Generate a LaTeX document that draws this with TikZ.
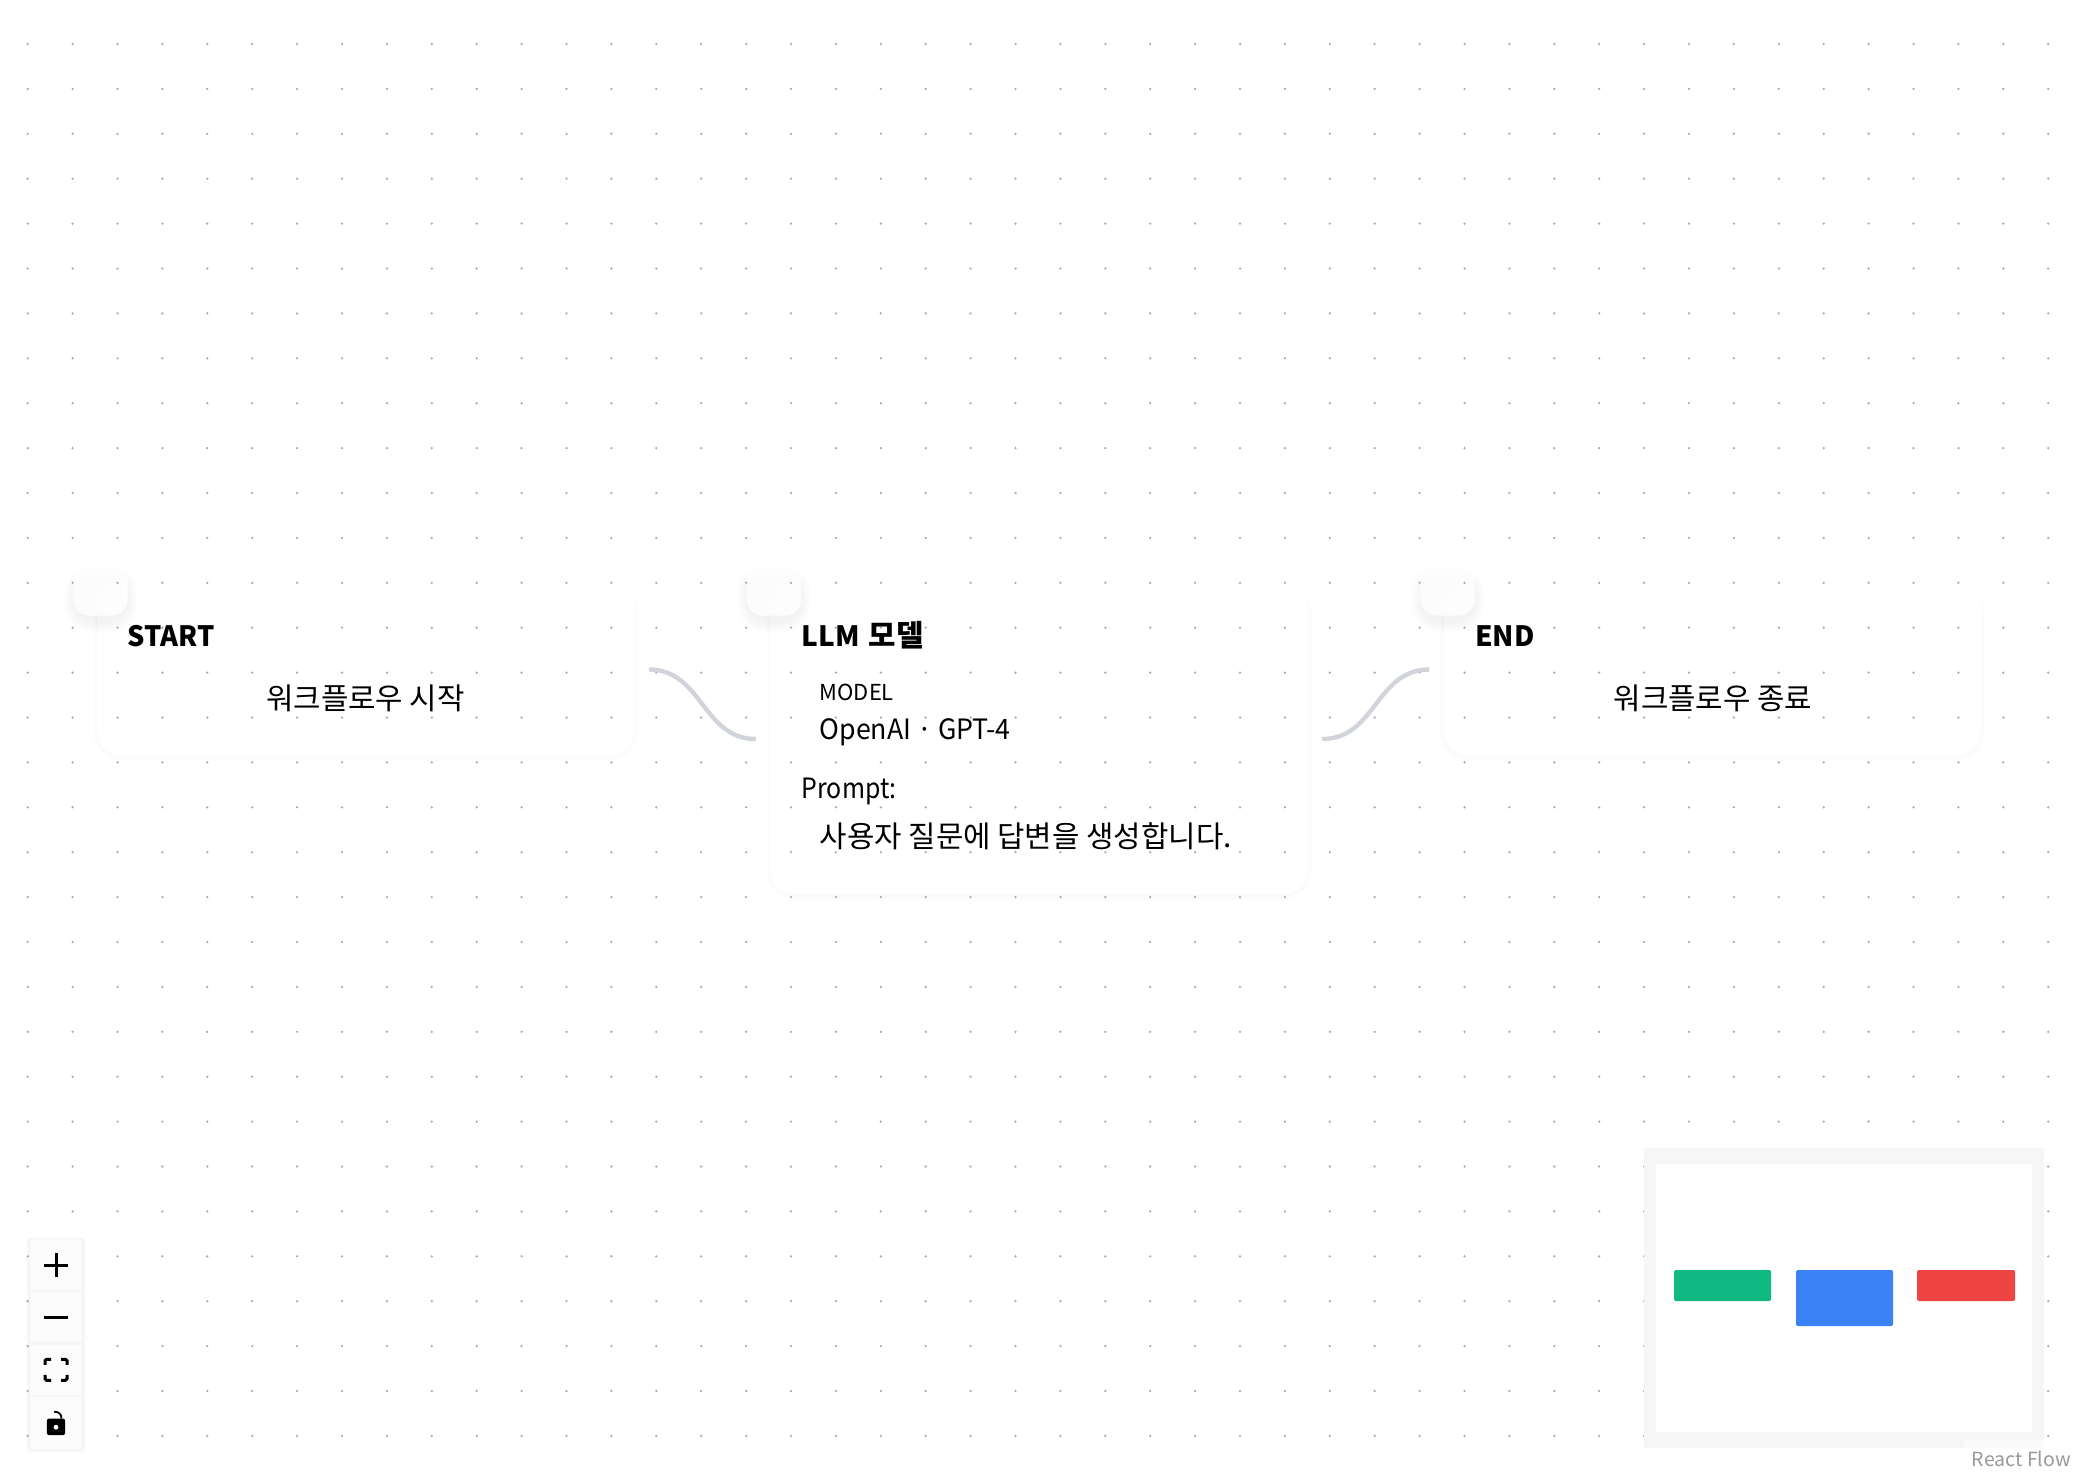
\documentclass[tikz,border=0pt]{standalone}
\usepackage{fontspec}
\setmainfont{Noto Sans CJK KR}
\usetikzlibrary{calc,positioning}
\definecolor{edgegray}{HTML}{D1D5DB}
\definecolor{dotgray}{HTML}{A8A8AC}
\definecolor{mapgray}{HTML}{F6F6F6}
\definecolor{mapgreen}{HTML}{10B981}
\definecolor{mapblue}{HTML}{3B82F6}
\definecolor{mapred}{HTML}{EF4444}
\tikzset{
  card/.style={fill=white,rounded corners=24pt,inner sep=0pt,minimum width=538pt},
  handlebox/.style={fill=white,fill opacity=.85,rounded corners=16pt,inner sep=0pt,minimum size=54pt},
  title/.style={anchor=base west,inner sep=0pt,font=\bfseries\fontsize{28}{34}\selectfont},
  bodytext/.style={anchor=base west,inner sep=0pt,font=\fontsize{28}{34}\selectfont},
  koreantext/.style={inner sep=0pt,font=\fontsize{29.8}{36}\selectfont},
  edge/.style={edgegray,line width=4.4pt},
  ctrlbtn/.style={fill=white!99!black,inner sep=0pt,minimum width=52pt,minimum height=50pt},
  icon/.style={black,line width=3pt},
  mapnode/.style={inner sep=0pt,rounded corners=1.5pt}
}
% soft shadow round a box: centre, half width, half height, radius, drop, steps, opacity
\newcommand{\softshadow}[7]{
  \foreach \e in {1,...,#6}
    \fill[black,opacity=#7,rounded corners=#4pt+\e pt]
      ($(#1)+(-#2-\e,-#3-\e+#5)$) rectangle ($(#1)+(#2+\e,#3+\e+#5)$);
}
\begin{document}
\begin{tikzpicture}[x=1pt,y=-1pt]
  \useasboundingbox (0,0) rectangle (2074,1478);
  % cards
  \coordinate (startpos) at (365.7,669.5);
  \coordinate (llmpos) at (1039,739);
  \coordinate (endpos) at (1712.5,669.5);
  \softshadow{startpos}{268}{84}{24}{3}{5}{.003}
  \softshadow{llmpos}{268}{153.5}{24}{3}{5}{.003}
  \softshadow{endpos}{268}{84}{24}{3}{5}{.003}
  \node[card,minimum height=171pt] (startcard) at (startpos) {};
  \node[card,minimum height=310pt] (llmcard) at (llmpos) {};
  \node[card,minimum height=171pt] (endcard) at (endpos) {};
  % handles
  \coordinate (starthpos) at (100.6,588.5);
  \coordinate (llmhpos) at (774,588.5);
  \coordinate (endhpos) at (1447.7,588.5);
  \softshadow{starthpos}{25}{22}{16}{10}{12}{.005}
  \softshadow{llmhpos}{25}{22}{16}{10}{12}{.005}
  \softshadow{endhpos}{25}{22}{16}{10}{12}{.005}
  \node[handlebox] (starthandle) at (starthpos) {};
  \node[handlebox] (llmhandle) at (llmhpos) {};
  \node[handlebox] (endhandle) at (endhpos) {};
  % dot grid
  \foreach \i in {0,...,45}
    \foreach \j in {-1,...,31}
      \fill[dotgray] (27.7+44.9*\i,44+44.9*\j) circle (1.25);
  % edges
  \coordinate (startout) at ($(startcard.east)+(14,0)$);
  \coordinate (llmin) at ($(llmcard.west)+(-14,0)$);
  \coordinate (llmout) at ($(llmcard.east)+(14,0)$);
  \coordinate (endin) at ($(endcard.west)+(-14,0)$);
  \draw[edge] (startout) .. controls ($(startout)!.5!(llmin|-startout)$) and ($(llmin)!.5!(startout|-llmin)$) .. (llmin);
  \draw[edge] (llmout) .. controls ($(llmout)!.5!(endin|-llmout)$) and ($(endin)!.5!(llmout|-endin)$) .. (endin);
  % texts
  \node[title] (starttitle) at (127.5,646) {\scalebox{.97}[1]{START}};
  \node[koreantext,anchor=base] (startbody) at (365.5,709) {워크플로우 시작};
  \node[title] (llmtitle) at (801.5,646) {LLM\hspace{9pt}\fontsize{29.8}{36}\selectfont 모델};
  \node[bodytext,font=\fontsize{22}{26}\selectfont] (modellabel) at (819.5,700.7) {MODEL};
  \node[bodytext] (modelname) at (819.5,739.5) {\scalebox{.954}[1]{OpenAI · GPT-4}};
  \node[bodytext] (promptlabel) at (801.5,798) {\scalebox{.89}[1]{Prompt:}};
  \node[koreantext,anchor=base west] (prompttext) at (819.5,847.5) {사용자 질문에 답변을 생성합니다.};
  \node[title] (endtitle) at (1475,646) {END};
  \node[koreantext,anchor=base] (endbody) at (1713,709) {워크플로우 종료};
  % zoom controls
  \coordinate (ctrlpos) at (56,1344);
  \softshadow{ctrlpos}{26}{104}{0}{1}{4}{.012}
  \node[fill=mapgray,inner sep=0pt,minimum width=52pt,minimum height=208pt] (ctrlbar) at (ctrlpos) {};
  \node[ctrlbtn] (zoomin) at (56,1265) {};
  \node[ctrlbtn,below=2pt of zoomin] (zoomout) {};
  \node[ctrlbtn,below=2pt of zoomout] (fitview) {};
  \node[ctrlbtn,minimum height=52pt,below=2pt of fitview] (lockbtn) {};
  \draw[icon] ($(zoomin.center)+(-12,0)$) -- ($(zoomin.center)+(12,0)$) ($(zoomin.center)+(0,-12)$) -- ($(zoomin.center)+(0,12)$);
  \draw[icon] ($(zoomout.center)+(-12,0)$) -- ($(zoomout.center)+(12,0)$);
  \foreach \sx/\sy in {-1/-1,1/-1,1/1,-1/1}
    \draw[icon,rounded corners=1.5pt] ($(fitview.center)+(\sx*5,\sy*10.5)$) -- ($(fitview.center)+(\sx*11,\sy*10.5)$) -- ($(fitview.center)+(\sx*11,\sy*5)$);
  \fill[black,rounded corners=2.5pt] ($(lockbtn.center)+(-9.2,-4.7)$) rectangle ($(lockbtn.center)+(9.2,12)$);
  \fill[white] ($(lockbtn.center)+(0,4)$) circle (2.4);
  \draw[black,line width=1.8pt] ($(lockbtn.center)+(-1.8,-11.5)$) .. controls ($(lockbtn.center)+(3,-11.5)$) and ($(lockbtn.center)+(5.5,-9)$) .. ($(lockbtn.center)+(5.5,-4.7)$);
  % minimap
  \node[fill=mapgray,inner sep=0pt,minimum width=400pt,minimum height=300pt] (mapframe) at (1844,1298) {};
  \node[fill=white,inner sep=0pt,minimum width=376pt,minimum height=267.5pt] (mapview) at (1843.9,1298) {};
  \node[mapnode,fill=mapgreen,minimum width=97pt,minimum height=31pt] (mapstart) at (1722.5,1285.5) {};
  \node[mapnode,fill=mapblue,minimum width=97pt,minimum height=56pt] (mapllm) at (1844.5,1298) {};
  \node[mapnode,fill=mapred,minimum width=98pt,minimum height=31pt] (mapend) at (1966,1285.5) {};
  % attribution
  \node[fill=white,fill opacity=.5,inner sep=0pt,minimum width=110pt,minimum height=38pt] (attrbox) at (2019,1459) {};
  \node[bodytext,font=\fontsize{19.5}{24}\selectfont,text=gray!80] (attrtext) at (1971.7,1466.7) {React Flow};
\end{tikzpicture}
\end{document}
